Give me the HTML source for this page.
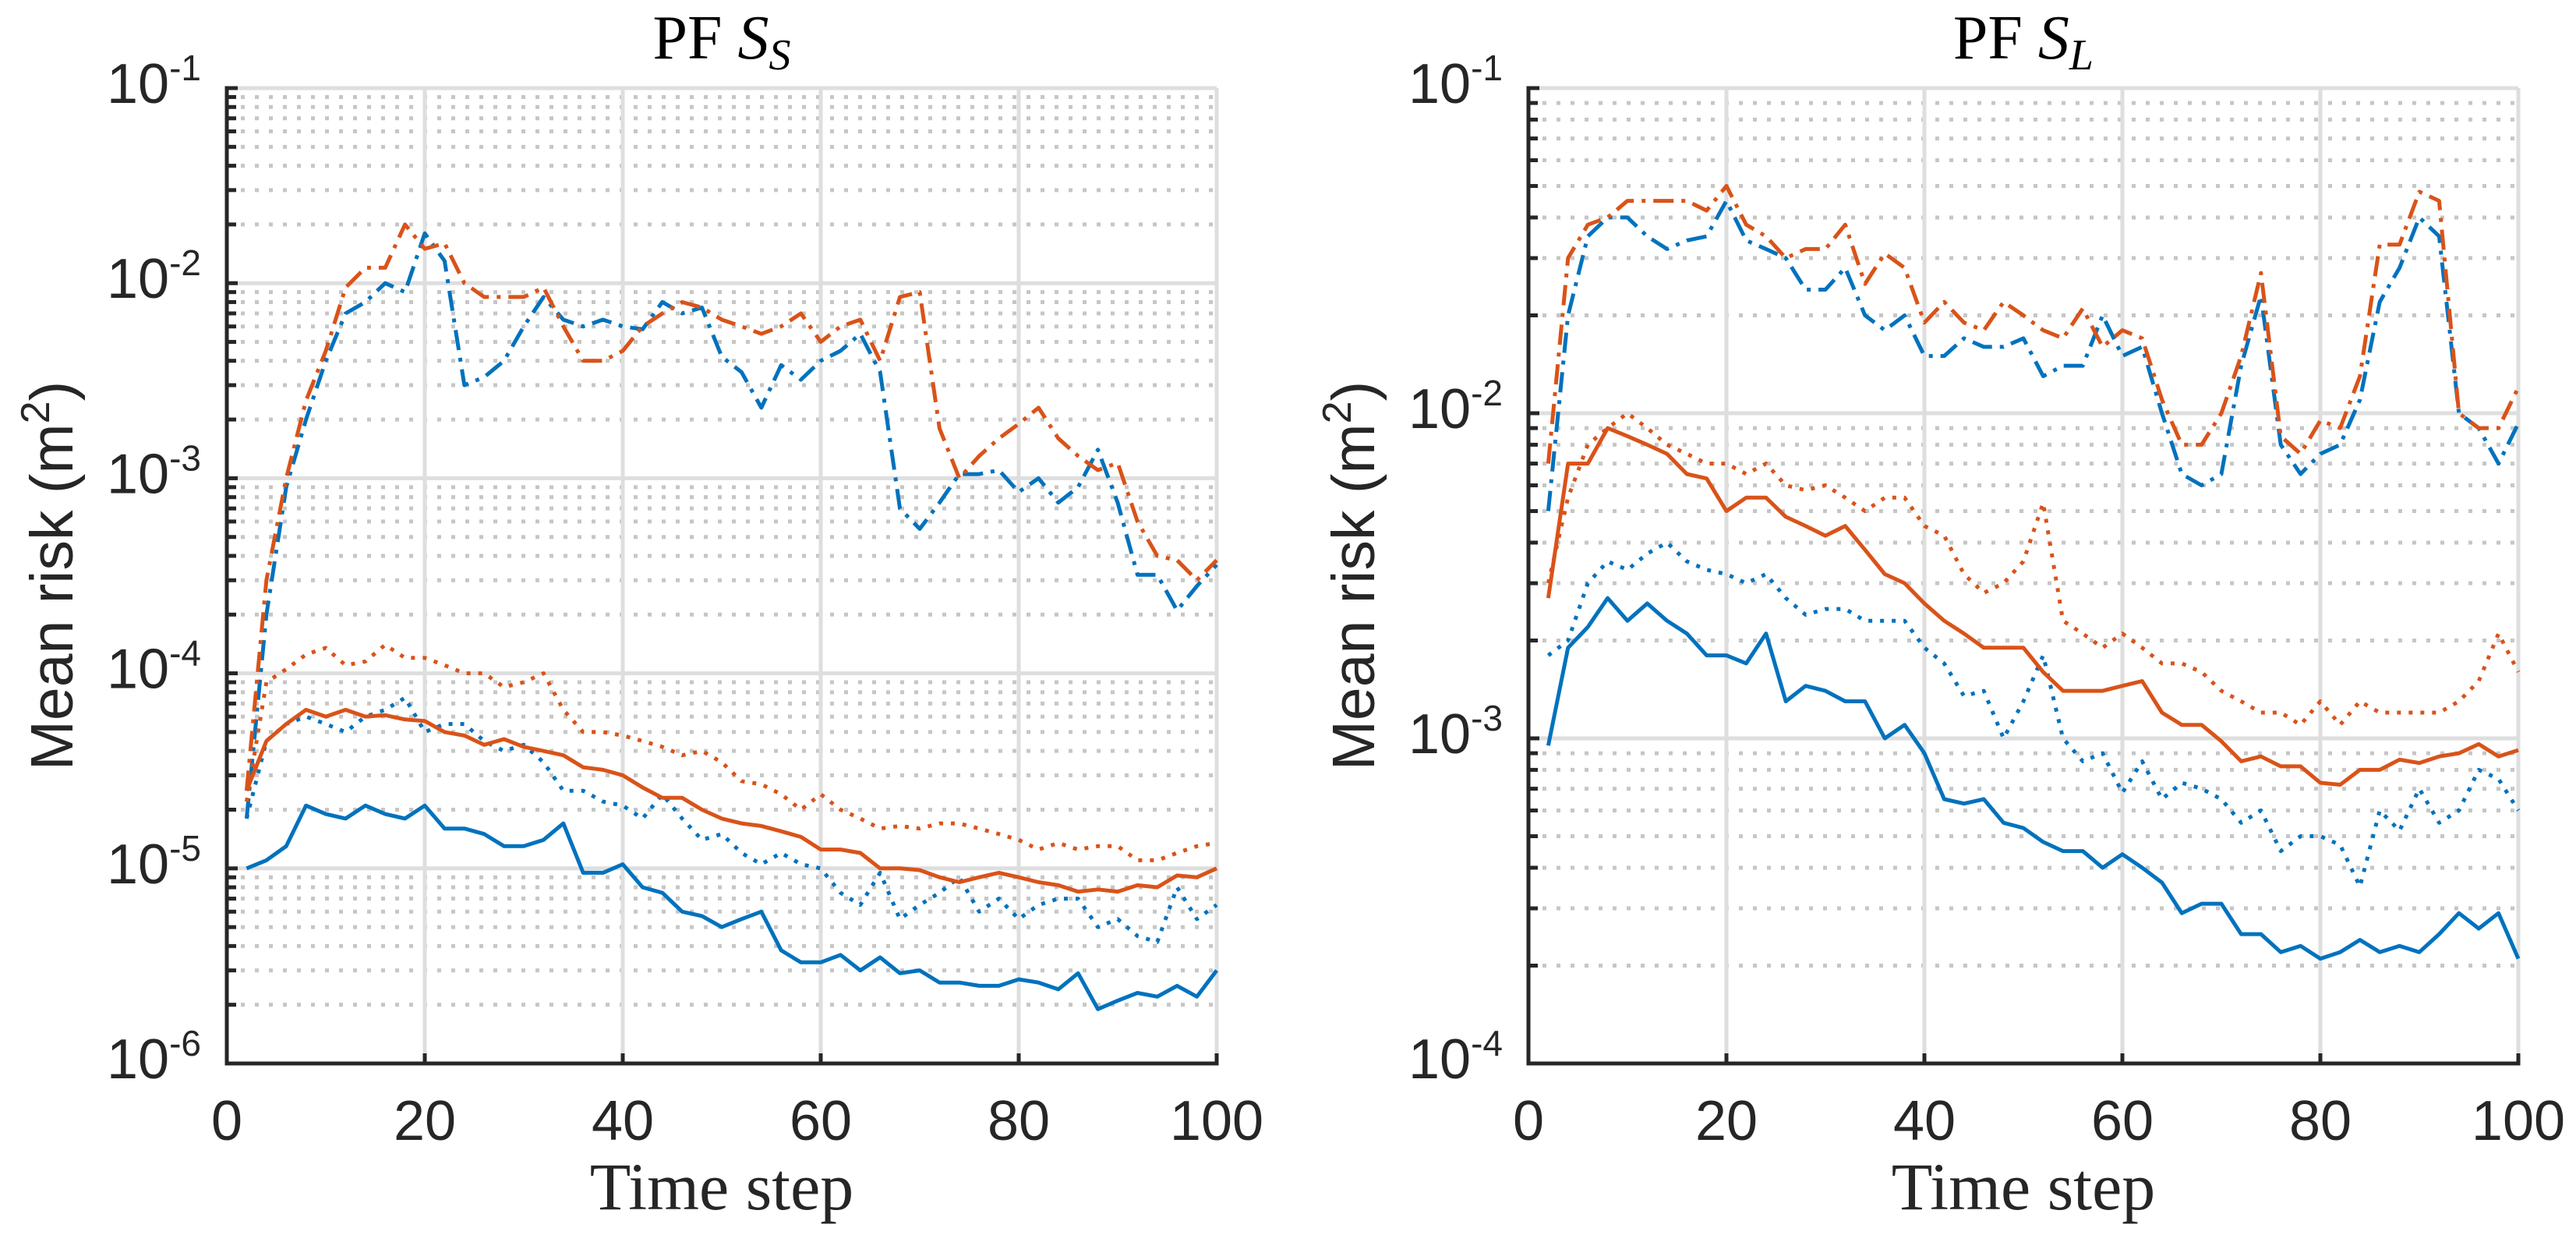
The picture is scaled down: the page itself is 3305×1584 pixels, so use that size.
<!DOCTYPE html>
<html><head><meta charset="utf-8"><style>
html,body{margin:0;padding:0;background:#fff;}
svg{display:block;}
</style></head><body>
<svg id="fig" width="3305" height="1584" viewBox="0 0 3305 1584" xmlns="http://www.w3.org/2000/svg"></svg>
<script>
// ---- shared data ----
const steps = [2,4,6,8,10,12,14,16,18,20,22,24,26,28,30,32,34,36,38,40,42,44,46,48,50,52,54,56,58,60,62,64,66,68,70,72,74,76,78,80,82,84,86,88,90,92,94,96,98,100];
const xTicks = [0,20,40,60,80,100];
const xTickLabels = ['0','20','40','60','80','100'];
const titleLeft = 'S';
const titleRight = 'L';
const leftDecadeExps = [-6,-5,-4,-3,-2,-1];
const rightDecadeExps = [-4,-3,-2,-1];

// ---- left panel (PF S_S) ----
const leftBlueSolid = [1.0e-5,1.1e-5,1.3e-5,2.1e-5,1.9e-5,1.8e-5,2.1e-5,1.9e-5,1.8e-5,2.1e-5,1.6e-5,1.6e-5,1.5e-5,1.3e-5,1.3e-5,1.4e-5,1.7e-5,0.95e-5,0.95e-5,1.05e-5,0.8e-5,0.75e-5,0.6e-5,0.57e-5,0.5e-5,0.55e-5,0.6e-5,0.38e-5,0.33e-5,0.33e-5,0.36e-5,0.3e-5,0.35e-5,0.29e-5,0.3e-5,0.26e-5,0.26e-5,0.25e-5,0.25e-5,0.27e-5,0.26e-5,0.24e-5,0.29e-5,0.19e-5,0.21e-5,0.23e-5,0.22e-5,0.25e-5,0.22e-5,0.3e-5];
const leftOrangeSolid = [2.5e-5,4.5e-5,5.5e-5,6.5e-5,6.0e-5,6.5e-5,6.0e-5,6.1e-5,5.8e-5,5.7e-5,5.0e-5,4.8e-5,4.3e-5,4.6e-5,4.2e-5,4.0e-5,3.8e-5,3.3e-5,3.2e-5,3.0e-5,2.6e-5,2.3e-5,2.3e-5,2.0e-5,1.8e-5,1.7e-5,1.65e-5,1.55e-5,1.45e-5,1.25e-5,1.25e-5,1.2e-5,1.0e-5,1.0e-5,0.98e-5,0.9e-5,0.85e-5,0.9e-5,0.95e-5,0.9e-5,0.85e-5,0.82e-5,0.76e-5,0.78e-5,0.76e-5,0.82e-5,0.8e-5,0.92e-5,0.9e-5,1.0e-5];
const leftBlueDotted = [1.8e-5,4.5e-5,5.5e-5,6e-5,5.5e-5,5e-5,6e-5,6.5e-5,7.5e-5,5e-5,5.5e-5,5.5e-5,4.5e-5,4e-5,4.3e-5,3.5e-5,2.5e-5,2.5e-5,2.2e-5,2.1e-5,1.8e-5,2.4e-5,1.8e-5,1.4e-5,1.5e-5,1.2e-5,1.05e-5,1.2e-5,1.05e-5,1.0e-5,0.75e-5,0.65e-5,0.95e-5,0.55e-5,0.65e-5,0.75e-5,0.9e-5,0.6e-5,0.7e-5,0.55e-5,0.65e-5,0.7e-5,0.7e-5,0.5e-5,0.55e-5,0.45e-5,0.42e-5,0.8e-5,0.55e-5,0.65e-5];
const leftOrangeDotted = [2.2e-5,9e-5,1.05e-4,1.25e-4,1.35e-4,1.1e-4,1.15e-4,1.4e-4,1.2e-4,1.2e-4,1.1e-4,1.0e-4,1.0e-4,0.85e-4,0.9e-4,1.0e-4,0.65e-4,0.5e-4,0.5e-4,0.48e-4,0.45e-4,0.42e-4,0.38e-4,0.4e-4,0.35e-4,0.28e-4,0.27e-4,0.24e-4,0.2e-4,0.24e-4,0.2e-4,0.18e-4,0.16e-4,0.165e-4,0.16e-4,0.17e-4,0.17e-4,0.16e-4,0.15e-4,0.14e-4,0.125e-4,0.135e-4,0.125e-4,0.13e-4,0.13e-4,0.11e-4,0.11e-4,0.12e-4,0.13e-4,0.135e-4];
const leftBlueDashDot = [1.8e-5,2e-4,9e-4,2e-3,4e-3,7e-3,8e-3,1e-2,9e-3,1.8e-2,1.3e-2,3e-3,3.3e-3,4e-3,6e-3,8.5e-3,6.5e-3,6e-3,6.5e-3,6e-3,5.8e-3,8e-3,7e-3,7.5e-3,4.2e-3,3.5e-3,2.3e-3,3.8e-3,3.2e-3,4e-3,4.5e-3,5.5e-3,3.5e-3,7e-4,5.5e-4,7.5e-4,1.05e-3,1.05e-3,1.1e-3,8.5e-4,1e-3,7.5e-4,9e-4,1.4e-3,7.5e-4,3.2e-4,3.2e-4,2.1e-4,2.8e-4,3.6e-4];
const leftOrangeDashDot = [2.5e-5,3e-4,1e-3,2.5e-3,4.5e-3,9.5e-3,1.2e-2,1.2e-2,2e-2,1.5e-2,1.6e-2,1e-2,8.5e-3,8.5e-3,8.5e-3,9.5e-3,6e-3,4e-3,4e-3,4.5e-3,6e-3,7e-3,8e-3,7.5e-3,6.5e-3,6e-3,5.5e-3,6e-3,7e-3,5e-3,6e-3,6.5e-3,4e-3,8.5e-3,9e-3,1.8e-3,1e-3,1.3e-3,1.6e-3,1.9e-3,2.3e-3,1.6e-3,1.3e-3,1.1e-3,1.2e-3,6e-4,4e-4,3.8e-4,3e-4,3.8e-4];

// ---- right panel (PF S_L) ----
const rightBlueSolid = [9.5e-4,1.9e-3,2.2e-3,2.7e-3,2.3e-3,2.6e-3,2.3e-3,2.1e-3,1.8e-3,1.8e-3,1.7e-3,2.1e-3,1.3e-3,1.45e-3,1.4e-3,1.3e-3,1.3e-3,1.0e-3,1.1e-3,9e-4,6.5e-4,6.3e-4,6.5e-4,5.5e-4,5.3e-4,4.8e-4,4.5e-4,4.5e-4,4e-4,4.4e-4,4e-4,3.6e-4,2.9e-4,3.1e-4,3.1e-4,2.5e-4,2.5e-4,2.2e-4,2.3e-4,2.1e-4,2.2e-4,2.4e-4,2.2e-4,2.3e-4,2.2e-4,2.5e-4,2.9e-4,2.6e-4,2.9e-4,2.1e-4];
const rightOrangeSolid = [2.7e-3,7e-3,7e-3,9e-3,8.5e-3,8e-3,7.5e-3,6.5e-3,6.3e-3,5e-3,5.5e-3,5.5e-3,4.8e-3,4.5e-3,4.2e-3,4.5e-3,3.8e-3,3.2e-3,3e-3,2.6e-3,2.3e-3,2.1e-3,1.9e-3,1.9e-3,1.9e-3,1.6e-3,1.4e-3,1.4e-3,1.4e-3,1.45e-3,1.5e-3,1.2e-3,1.1e-3,1.1e-3,9.8e-4,8.5e-4,8.8e-4,8.2e-4,8.2e-4,7.3e-4,7.2e-4,8e-4,8e-4,8.6e-4,8.4e-4,8.8e-4,9e-4,9.6e-4,8.8e-4,9.2e-4];
const rightBlueDotted = [1.8e-3,2e-3,3e-3,3.5e-3,3.3e-3,3.7e-3,4e-3,3.5e-3,3.3e-3,3.2e-3,3e-3,3.2e-3,2.7e-3,2.4e-3,2.5e-3,2.5e-3,2.3e-3,2.3e-3,2.3e-3,1.9e-3,1.7e-3,1.35e-3,1.4e-3,1.0e-3,1.3e-3,1.8e-3,1.0e-3,8.5e-4,9e-4,6.8e-4,8.5e-4,6.5e-4,7.3e-4,7e-4,6.5e-4,5.5e-4,6e-4,4.5e-4,5e-4,5e-4,4.7e-4,3.5e-4,6e-4,5.2e-4,7e-4,5.5e-4,6e-4,8e-4,7.5e-4,6e-4];
const rightOrangeDotted = [3e-3,5.5e-3,8e-3,9e-3,1e-2,9e-3,8e-3,7.5e-3,7e-3,7e-3,6.5e-3,7e-3,6e-3,5.8e-3,6e-3,5.5e-3,5e-3,5.5e-3,5.5e-3,4.5e-3,4.2e-3,3.2e-3,2.8e-3,3e-3,3.5e-3,5.3e-3,2.3e-3,2.1e-3,1.9e-3,2.1e-3,1.9e-3,1.7e-3,1.7e-3,1.6e-3,1.4e-3,1.3e-3,1.2e-3,1.2e-3,1.1e-3,1.3e-3,1.1e-3,1.3e-3,1.2e-3,1.2e-3,1.2e-3,1.2e-3,1.3e-3,1.5e-3,2.1e-3,1.6e-3];
const rightBlueDashDot = [5e-3,2e-2,3.5e-2,4e-2,4e-2,3.5e-2,3.2e-2,3.4e-2,3.5e-2,4.5e-2,3.4e-2,3.2e-2,3e-2,2.4e-2,2.4e-2,2.8e-2,2e-2,1.8e-2,2e-2,1.5e-2,1.5e-2,1.7e-2,1.6e-2,1.6e-2,1.7e-2,1.3e-2,1.4e-2,1.4e-2,2e-2,1.5e-2,1.6e-2,1e-2,6.5e-3,6e-3,6.5e-3,1.4e-2,2.3e-2,8e-3,6.5e-3,7.5e-3,8e-3,1.1e-2,2.2e-2,2.8e-2,4e-2,3.5e-2,1e-2,9e-3,7e-3,9.3e-3];
const rightOrangeDashDot = [7e-3,3e-2,3.8e-2,4e-2,4.5e-2,4.5e-2,4.5e-2,4.5e-2,4.2e-2,5e-2,3.8e-2,3.5e-2,3e-2,3.2e-2,3.2e-2,3.8e-2,2.5e-2,3.1e-2,2.8e-2,1.9e-2,2.2e-2,1.9e-2,1.8e-2,2.2e-2,2e-2,1.8e-2,1.7e-2,2.1e-2,1.6e-2,1.8e-2,1.7e-2,1.1e-2,8e-3,8e-3,1e-2,1.5e-2,2.7e-2,8.5e-3,7.5e-3,9.5e-3,9e-3,1.3e-2,3.3e-2,3.3e-2,4.8e-2,4.5e-2,1e-2,9e-3,9e-3,1.2e-2];

const NS = 'http://www.w3.org/2000/svg';
const svg = document.getElementById('fig');
const BLUE = '#0072BD', ORANGE = '#D95319';
const DOT = '5 10', DASHDOT = '26 10 5 10';

function mk(tag, attrs, parent) {
  const e = document.createElementNS(NS, tag);
  for (const k in attrs) e.setAttribute(k, attrs[k]);
  (parent || svg).appendChild(e);
  return e;
}

function panel(name, x0, x1, y0, y1, exps, sub, series) {
  const g = mk('g', {});
  
  
  const eMin = exps[0], eMax = exps[exps.length - 1];
  const sx = v => x0 + (v - 0) / 100 * (x1 - x0);
  const sy = v => y1 - (Math.log10(v) - eMin) / (eMax - eMin) * (y1 - y0);

  for (let e = eMin; e < eMax; e++) {
    for (let m = 2; m <= 9; m++) {
      const y = sy(m * Math.pow(10, e));
      const l = mk('line', {x1: x0, x2: x1, y1: y, y2: y, stroke: '#c6c6c6', 'stroke-width': 5, 'stroke-dasharray': '5 13'}, g);
      
      
      const t = mk('line', {x1: x0, x2: x0 + 12, y1: y, y2: y, stroke: '#262626', 'stroke-width': 5}, g);
      
      
    }
  }
  exps.forEach(e => {
    const y = sy(Math.pow(10, e));
    const l = mk('line', {x1: x0, x2: x1, y1: y, y2: y, stroke: '#dedede', 'stroke-width': 5}, g);
    
    
  });
  xTicks.forEach(v => {
    const x = sx(v);
    const l = mk('line', {x1: x, x2: x, y1: y0, y2: y1, stroke: '#dedede', 'stroke-width': 5}, g);
    
    
  });

  series.forEach(s => {
    const pts = steps.map((st, i) => sx(st).toFixed(1) + ',' + sy(s.vals[i]).toFixed(1)).join(' ');
    const attrs = {points: pts, fill: 'none', stroke: s.color, 'stroke-width': 5, 'stroke-linejoin': 'round'};
    if (s.dash) attrs['stroke-dasharray'] = s.dash;
    const p = mk('polyline', attrs, g);
    
    
  });

  const ax = mk('path', {d: `M${x0},${y0 - 2.5} L${x0},${y1} L${x1 + 2.5},${y1}`, fill: 'none', stroke: '#262626', 'stroke-width': 5}, g);
  
  

  exps.forEach(e => {
    const y = sy(Math.pow(10, e));
    const t = mk('line', {x1: x0, x2: x0 + 14, y1: y, y2: y, stroke: '#262626', 'stroke-width': 5}, g);
    
    
    const tx = mk('text', {x: x0 - 33, y: y + 19, 'text-anchor': 'end', 'font-family': 'Liberation Sans, Arial, sans-serif', 'font-size': 72, fill: '#262626'}, g);
    
    
    const a = mk('tspan', {}, tx); a.textContent = '10';
    const b = mk('tspan', {dy: -29, 'font-size': 46}, tx); b.textContent = '-' + Math.abs(e);
  });
  xTicks.forEach((v, i) => {
    const x = sx(v);
    const t = mk('line', {x1: x, x2: x, y1: y1, y2: y1 - 13, stroke: '#262626', 'stroke-width': 5}, g);
    
    
    const tx = mk('text', {x: x, y: 1462, 'text-anchor': 'middle', 'font-family': 'Liberation Sans, Arial, sans-serif', 'font-size': 72, fill: '#262626'}, g);
    
    
    tx.textContent = xTickLabels[i];
  });

  const cx = (x0 + x1) / 2;
  const xl = mk('text', {x: cx, y: 1551, 'text-anchor': 'middle', 'font-family': 'Liberation Serif, serif', 'font-size': 86, fill: '#262626'}, g);
  
  
  xl.textContent = 'Time step';

  const yc = (y0 + y1) / 2;
  const yl = mk('text', {x: 0, y: 0, transform: `translate(${x0 - 198},${yc}) rotate(-90)`, 'text-anchor': 'middle', 'font-family': 'Liberation Sans, Arial, sans-serif', 'font-size': 77, fill: '#262626'}, g);
  
  
  const y1s = mk('tspan', {}, yl); y1s.textContent = 'Mean risk (m';
  const y2s = mk('tspan', {dy: -30, 'font-size': 52}, yl); y2s.textContent = '2';
  const y3s = mk('tspan', {dy: 30}, yl); y3s.textContent = ')';

  const tt = mk('text', {x: cx, y: 75, 'text-anchor': 'middle', 'font-family': 'Liberation Serif, serif', 'font-size': 80, fill: '#000'}, g);
  
  
  const t1 = mk('tspan', {}, tt); t1.textContent = 'PF ';
  const t2 = mk('tspan', {'font-style': 'italic'}, tt); t2.textContent = 'S';
  const t3 = mk('tspan', {'font-style': 'italic', 'font-size': 56, dy: 14}, tt); t3.textContent = sub;
}

panel('left-panel', 291, 1561, 113, 1364, leftDecadeExps, titleLeft, [
  {name: 'left-blue-dashdot', color: BLUE, dash: DASHDOT, vals: leftBlueDashDot},
  {name: 'left-orange-dashdot', color: ORANGE, dash: DASHDOT, vals: leftOrangeDashDot},
  {name: 'left-blue-dotted', color: BLUE, dash: DOT, vals: leftBlueDotted},
  {name: 'left-orange-dotted', color: ORANGE, dash: DOT, vals: leftOrangeDotted},
  {name: 'left-blue-solid', color: BLUE, dash: null, vals: leftBlueSolid},
  {name: 'left-orange-solid', color: ORANGE, dash: null, vals: leftOrangeSolid}
]);
panel('right-panel', 1961, 3231, 113, 1364, rightDecadeExps, titleRight, [
  {name: 'right-blue-dashdot', color: BLUE, dash: DASHDOT, vals: rightBlueDashDot},
  {name: 'right-orange-dashdot', color: ORANGE, dash: DASHDOT, vals: rightOrangeDashDot},
  {name: 'right-blue-dotted', color: BLUE, dash: DOT, vals: rightBlueDotted},
  {name: 'right-orange-dotted', color: ORANGE, dash: DOT, vals: rightOrangeDotted},
  {name: 'right-blue-solid', color: BLUE, dash: null, vals: rightBlueSolid},
  {name: 'right-orange-solid', color: ORANGE, dash: null, vals: rightOrangeSolid}
]);
</script>
</body></html>
